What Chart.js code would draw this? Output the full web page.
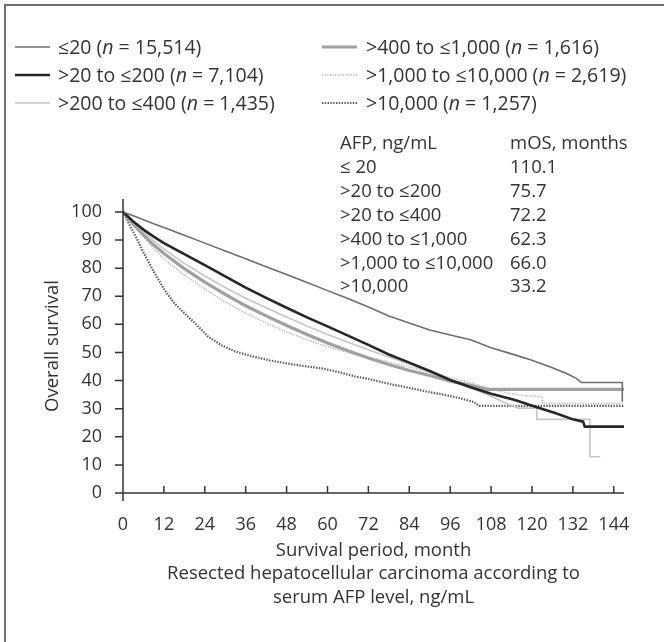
<!DOCTYPE html>
<html>
<head>
<meta charset="utf-8">
<script src="https://cdn.jsdelivr.net/npm/chart.js@4/dist/chart.umd.min.js"></script>
<style>
  html, body { margin: 0; padding: 0; background: #fff; }
  #wrap { position: relative; width: 664px; height: 642px; overflow: hidden;
          font-family: "Open Sans", "Noto Sans", sans-serif; color: #333; }
  #frame { position: absolute; left: 4px; top: 4px; width: 720px; height: 720px;
           border-left: 2px solid #6f6f6f; border-top: 2px solid #6f6f6f; }
  #km { position: absolute; left: 0; top: 0; }
  .leg { position: absolute; font-size: 19.5px; white-space: nowrap; height: 24px; line-height: 24px; }
  .leg svg { position: absolute; left: 0; top: 0; }
  .leg span { position: absolute; top: 0; }
  .tbl { position: absolute; font-size: 18.5px; white-space: nowrap; line-height: 24px; }
</style>
</head>
<body>
<div id="wrap">
  <div id="frame"></div>
  <canvas id="km" width="664" height="642"></canvas>
  <div id="legend"></div>
  <div id="table"></div>
</div>
<script>
// Serum AFP groups and patient counts
const groupLabels = ['≤20', '>20 to ≤200', '>200 to ≤400', '>400 to ≤1,000', '>1,000 to ≤10,000', '>10,000'];
const groupCounts = ['15,514', '7,104', '1,435', '1,616', '2,619', '1,257'];

// Median overall survival table
const afpRows = ['≤ 20', '>20 to ≤200', '>20 to ≤400', '>400 to ≤1,000', '>1,000 to ≤10,000', '>10,000'];
const mosMonths = ['110.1', '75.7', '72.2', '62.3', '66.0', '33.2'];

// Axis ticks
const monthTicks = [0, 12, 24, 36, 48, 60, 72, 84, 96, 108, 120, 132, 144];
const survivalTicks = [0, 10, 20, 30, 40, 50, 60, 70, 80, 90, 100];

// Kaplan-Meier curves: [month, overall survival %]
const curveLe20 = [[0,100],[3,98.6],[6,97.2],[9,95.8],[12,94.5],[18,91.7],[24,88.9],[30,86.1],[36,83.3],[42,80.5],[48,77.7],[54,74.9],[60,72.0],[66,69.2],[72,66.2],[78,63.0],[84,60.5],[90,58.0],[96,56.2],[102,54.5],[108,51.7],[114,49.5],[120,47.2],[126,44.6],[130,42.6],[133,40.8],[134.5,39.3],[146.5,39.3],[146.5,32.5]];
const curve20to200 = [[0,100],[3,96.6],[6,93.7],[9,91.2],[12,88.9],[18,85.0],[24,81.1],[30,77.1],[36,73.1],[42,69.4],[48,65.9],[54,62.5],[60,59.3],[66,56.0],[72,52.7],[78,49.3],[84,46.4],[90,43.4],[96,40.2],[102,37.6],[108,35.3],[115,33.1],[121,30.7],[127,28.4],[132,26.2],[135,25.4],[135.5,23.6],[147,23.6]];
const curve200to400 = [[0,100],[3,96.2],[6,92.8],[9,89.7],[12,86.8],[18,81.7],[24,77.2],[30,73.1],[36,69.3],[42,65.9],[48,62.6],[54,59.4],[60,56.4],[66,53.6],[72,51.0],[78,48.4],[84,45.8],[90,43.0],[96,40.3],[102,37.4],[108,34.4],[113,31.6],[116,30.2],[121.4,30.2],[121.4,26.2],[137,26.2],[137,12.9],[140,12.9]];
const curve400to1000 = [[0,100],[3,95.6],[6,91.8],[9,88.3],[12,85.2],[18,79.8],[24,75.0],[30,70.7],[36,66.6],[42,63.0],[48,59.6],[54,56.4],[60,53.4],[66,50.6],[72,48.0],[78,45.7],[84,43.6],[90,41.8],[96,39.8],[102,38.3],[106.7,36.9],[147,36.9]];
const curve1000to10000 = [[0,100],[3,95.5],[6,91.2],[9,87.0],[12,83.2],[18,77.6],[24,72.6],[30,67.9],[36,64.0],[42,60.5],[48,57.3],[54,54.5],[60,52.0],[66,50.0],[72,48.3],[78,46.6],[84,44.8],[90,42.9],[96,41.0],[102,39.2],[108,37.0],[113,35.5],[118,34.6],[123,34.3],[123,31.8],[147,31.8]];
const curveOver10000 = [[0,100],[1,97.6],[2,95.2],[4,90.6],[6,85.6],[9,78.8],[12,72.6],[15,67.6],[18,64.0],[21,60.5],[25,55.6],[29,52.5],[33,50.3],[38,48.6],[43,47.2],[48,46.1],[54,45.0],[58,44.4],[63,43.1],[68,41.5],[73,40.3],[79,38.6],[84,37.4],[89,36.1],[94,35.0],[99,33.7],[103,32.3],[104.5,31.0],[147,31.0]];

const curves = [curveLe20, curve20to200, curve200to400, curve400to1000, curve1000to10000, curveOver10000];
const lineStyles = [
  { color: '#6e6e6e', width: 1.6, dash: [] },
  { color: '#262626', width: 2.6, dash: [] },
  { color: '#c6c6c6', width: 1.6, dash: [] },
  { color: '#a0a0a0', width: 3.2, dash: [] },
  { color: '#b3b3b3', width: 1.6, dash: [1.2, 1.4] },
  { color: '#585858', width: 2.2, dash: [1.4, 1.4] }
];

const FONT = '"Open Sans", "Noto Sans", sans-serif';
const INK = '#333';

// Axis lines and tick marks: y ticks point outward, x ticks point inward
const kmAxes = {
  id: 'kmAxes',
  afterDatasetsDraw(chart) {
    const { ctx, chartArea: a, scales: { x, y } } = chart;
    const x0 = x.getPixelForValue(0);
    const y0 = y.getPixelForValue(0);
    ctx.save();
    ctx.strokeStyle = INK;
    ctx.lineWidth = 1.5;
    ctx.beginPath();
    ctx.moveTo(x0, a.top); ctx.lineTo(x0, y0 + 8);
    ctx.moveTo(x0, y0); ctx.lineTo(a.right, y0);
    survivalTicks.forEach(v => {
      const py = y.getPixelForValue(v);
      ctx.moveTo(x0 - 8, py); ctx.lineTo(x0, py);
    });
    monthTicks.forEach(v => {
      const px = x.getPixelForValue(v);
      ctx.moveTo(px, y0); ctx.lineTo(px, y0 - 7);
    });
    ctx.stroke();
    ctx.restore();
  }
};

new Chart(document.getElementById('km'), {
  type: 'line',
  data: {
    datasets: curves.map((pts, i) => ({
      label: groupLabels[i],
      data: pts.map(p => ({ x: p[0], y: p[1] })),
      borderColor: lineStyles[i].color,
      borderWidth: lineStyles[i].width,
      borderDash: lineStyles[i].dash,
      borderCapStyle: 'butt',
      borderJoinStyle: 'miter',
      pointRadius: 0,
      tension: 0,
      fill: false
    }))
  },
  options: {
    responsive: false,
    animation: false,
    devicePixelRatio: 1,
    layout: { padding: { top: 199, left: 0, right: 40, bottom: 0 } },
    plugins: { legend: { display: false }, tooltip: { enabled: false } },
    scales: {
      x: {
        type: 'linear', min: 0, max: 147,
        afterBuildTicks: s => { s.ticks = monthTicks.map(v => ({ value: v })); },
        afterFit: s => { s.height = 149; },
        grid: { display: false },
        border: { display: false },
        ticks: { padding: 13, autoSkip: false, maxRotation: 0, color: INK, font: { family: FONT, size: 18 } },
        title: {
          display: true,
          text: ['Survival period, month', 'Resected hepatocellular carcinoma according to', 'serum AFP level, ng/mL'],
          color: INK,
          font: { family: FONT, size: 18.5, lineHeight: 23.5 / 18.5 },
          padding: { top: 0, bottom: 33 }
        }
      },
      y: {
        type: 'linear', min: 0, max: 104.6,
        afterBuildTicks: s => { s.ticks = survivalTicks.map(v => ({ value: v })); },
        afterFit: s => { s.width = 123; },
        grid: { display: false },
        border: { display: false },
        ticks: { padding: 13, color: INK, font: { family: FONT, size: 18 } },
        title: {
          display: true,
          text: 'Overall survival',
          color: INK,
          font: { family: FONT, size: 18.5, lineHeight: 1.2 },
          padding: { top: 42, bottom: 0 }
        }
      }
    }
  },
  plugins: [kmAxes]
});

// Legend in two columns of three
const legend = document.getElementById('legend');
const legendCols = [{ line: 15, text: 58 }, { line: 322, text: 366 }];
const legendRows = [35, 63, 91];
groupLabels.forEach((name, i) => {
  const col = legendCols[Math.floor(i / 3)];
  const st = lineStyles[i];
  const item = document.createElement('div');
  item.className = 'leg';
  item.style.left = col.line + 'px';
  item.style.top = legendRows[i % 3] + 'px';
  const dash = st.dash.length ? ` stroke-dasharray="${st.dash.join(' ')}"` : '';
  item.innerHTML =
    `<svg width="36" height="24"><line x1="0" y1="12" x2="35" y2="12" stroke="${st.color}" stroke-width="${st.width}"${dash}/></svg>` +
    `<span style="left:${col.text - col.line}px">${name} (<i>n</i> = ${groupCounts[i]})</span>`;
  legend.appendChild(item);
});

// Median OS table
const table = document.getElementById('table');
const tableTop = 130, tableStep = 23.9;
function addCell(text, left, row) {
  const d = document.createElement('div');
  d.className = 'tbl';
  d.style.left = left + 'px';
  d.style.top = (tableTop + row * tableStep) + 'px';
  d.textContent = text;
  table.appendChild(d);
}
addCell('AFP, ng/mL', 340, 0);
addCell('mOS, months', 510, 0);
afpRows.forEach((r, i) => { addCell(r, 340, i + 1); addCell(mosMonths[i], 510, i + 1); });
</script>
</body>
</html>
